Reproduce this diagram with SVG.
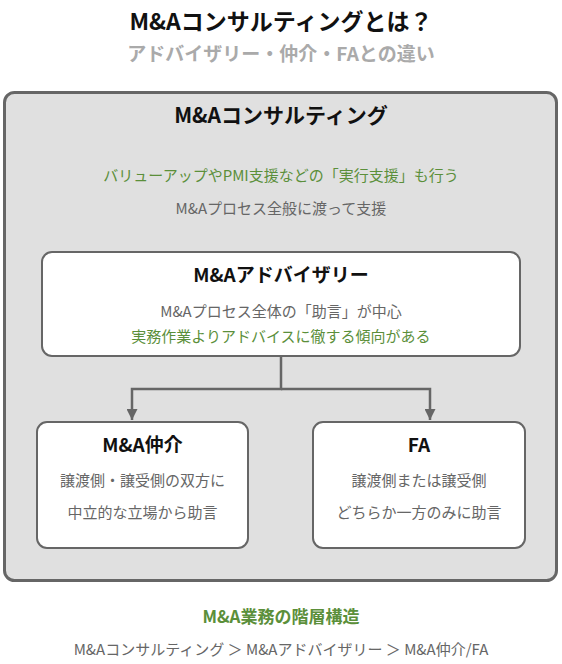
<svg xmlns="http://www.w3.org/2000/svg" width="562" height="664" viewBox="0 0 562 664">
<defs>
<style>
text{font-family:"Noto Sans CJK JP","Noto Sans",sans-serif;text-anchor:middle}
.h{font-weight:bold;fill:#111}
.g{fill:#666;font-size:15px}
.gr{fill:#5b8f3a;font-size:15px}
.box{fill:#fff;stroke:#666;stroke-width:2}
.conn{fill:none;stroke:#666;stroke-width:2.5}
</style>
<marker id="arr" viewBox="0 0 10 10" refX="10" refY="5" markerWidth="11" markerHeight="11" markerUnits="userSpaceOnUse" orient="auto">
<path d="M0,0 L10,5 L0,10 Z" fill="#666"/>
</marker>
</defs>
<rect width="562" height="664" fill="#fff"/>
<g id="title">
<text x="281" y="30" class="h" font-size="23">M&amp;Aコンサルティングとは？</text>
<text x="281" y="61" font-size="19" font-weight="bold" fill="#aaa">アドバイザリー・仲介・FAとの違い</text>
</g>
<g id="consulting">
<rect x="4.5" y="92.5" width="552" height="488" rx="10" fill="#e0e0e0" stroke="#666" stroke-width="3"/>
<text x="281" y="123" class="h" font-size="21">M&amp;Aコンサルティング</text>
<text x="281" y="181" class="gr">バリューアップやPMI支援などの「実行支援」も行う</text>
<text x="281" y="214" class="g">M&amp;Aプロセス全般に渡って支援</text>
</g>
<g id="advisory">
<rect x="42" y="252" width="478" height="104" rx="10" class="box"/>
<text x="281" y="282" class="h" font-size="19">M&amp;Aアドバイザリー</text>
<text x="281" y="317" class="g">M&amp;Aプロセス全体の「助言」が中心</text>
<text x="281" y="342" class="gr">実務作業よりアドバイスに徹する傾向がある</text>
</g>
<g id="connectors">
<path class="conn" d="M281,356 V389 H132 V420" marker-end="url(#arr)"/>
<path class="conn" d="M281,389 H430 V420" marker-end="url(#arr)"/>
</g>
<g id="chukai">
<rect x="37" y="422" width="211" height="126" rx="10" class="box"/>
<text x="142.5" y="452" class="h" font-size="19">M&amp;A仲介</text>
<text x="142.5" y="486" class="g">譲渡側・譲受側の双方に</text>
<text x="142.5" y="518" class="g">中立的な立場から助言</text>
</g>
<g id="fa">
<rect x="313" y="422" width="212" height="126" rx="10" class="box"/>
<text x="419" y="452" class="h" font-size="19">FA</text>
<text x="419" y="486" class="g">譲渡側または譲受側</text>
<text x="419" y="518" class="g">どちらか一方のみに助言</text>
</g>
<g id="footer">
<text x="281" y="623" font-size="17" font-weight="bold" fill="#5b8f3a">M&amp;A業務の階層構造</text>
<text x="281" y="655" class="g">M&amp;Aコンサルティング ＞ M&amp;Aアドバイザリー ＞ M&amp;A仲介/FA</text>
</g>
</svg>
